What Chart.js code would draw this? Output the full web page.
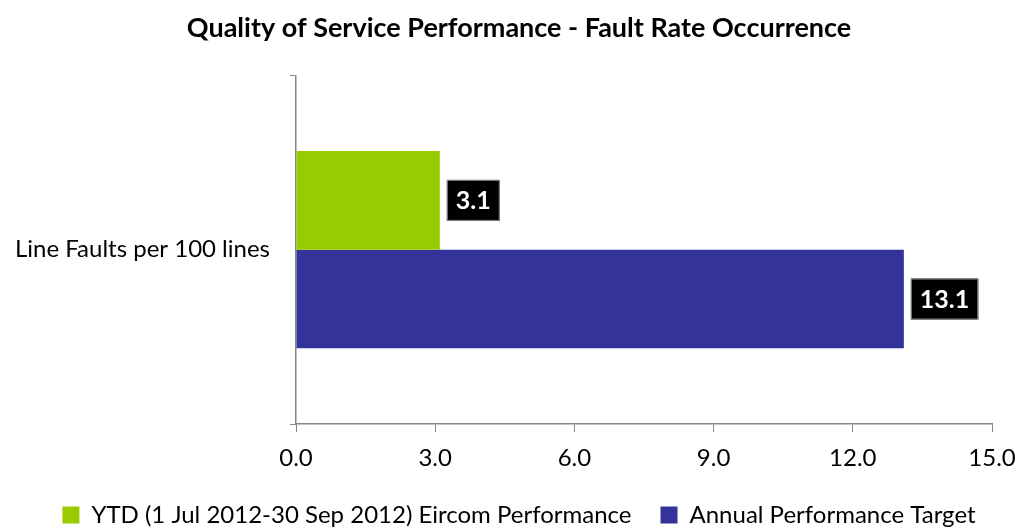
<!DOCTYPE html>
<html>
<head>
<meta charset="utf-8">
<script src="https://cdn.jsdelivr.net/npm/chart.js@4"></script>
<style>
  html, body { margin: 0; padding: 0; background: #fff; overflow: hidden; }
  #wrap { width: 1020px; height: 529px; overflow: hidden; }
  #faultChart { display: block; }
</style>
</head>
<body>
<div id="wrap"><canvas id="faultChart" width="1038" height="529"></canvas></div>
<script>
// chart data
const categories = ['Line Faults per 100 lines'];
const seriesNames = ['YTD (1 Jul 2012-30 Sep 2012) Eircom Performance', 'Annual Performance Target'];
const ytdValues = [3.1];
const targetValues = [13.1];
const xTicks = [0, 3, 6, 9, 12, 15];

const FONT = 'Lato, "Liberation Sans", sans-serif';
const AXIS_GREY = '#868686';

// black boxes with the value next to each bar end
const valueBoxes = {
  id: 'valueBoxes',
  afterDatasetsDraw(chart) {
    const ctx = chart.ctx;
    ctx.save();
    ctx.font = 'bold 25px ' + FONT;
    ctx.textBaseline = 'middle';
    chart.data.datasets.forEach((ds, i) => {
      const meta = chart.getDatasetMeta(i);
      meta.data.forEach((bar, j) => {
        const txt = ds.data[j].toFixed(1);
        const w = ctx.measureText(txt).width + 18;
        const h = 41;
        const x = bar.x + 7;
        const y = bar.y - h / 2;
        ctx.fillStyle = '#000';
        ctx.fillRect(x, y, w, h);
        ctx.strokeStyle = '#8a8a8a';
        ctx.lineWidth = 1;
        ctx.strokeRect(x + 0.5, y + 0.5, w - 1, h - 1);
        ctx.fillStyle = '#fff';
        ctx.fillText(txt, x + 9, bar.y + 1);
      });
    });
    ctx.restore();
  }
};

const canvas = document.getElementById('faultChart');
const ctx = canvas.getContext('2d');

new Chart(ctx, {
  type: 'bar',
  data: {
    labels: categories,
    datasets: [{
      label: seriesNames[0],
      data: ytdValues,
      backgroundColor: '#99cc00',
      barPercentage: 1,
      categoryPercentage: 0.566
    }, {
      label: seriesNames[1],
      data: targetValues,
      backgroundColor: '#333399',
      barPercentage: 1,
      categoryPercentage: 0.566
    }]
  },
  options: {
    indexAxis: 'y',
    responsive: false,
    animation: false,
    layout: { padding: { left: 0, right: 0, top: 0, bottom: -8 } },
    plugins: {
      title: {
        display: true,
        text: 'Quality of Service Performance - Fault Rate Occurrence',
        color: '#000',
        font: { family: FONT, size: 27, weight: 'bold' },
        padding: { top: 12, bottom: 31 }
      },
      legend: {
        position: 'bottom',
        labels: {
          color: '#000',
          font: { family: FONT, size: 24 },
          boxWidth: 17,
          boxHeight: 17,
          padding: 29
        }
      },
      tooltip: { enabled: false }
    },
    scales: {
      x: {
        min: 0,
        max: 15,
        afterBuildTicks(scale) {
          scale.ticks = xTicks.map(v => ({ value: v }));
        },
        afterFit(scale) {
          scale.height = 50;
          scale.paddingLeft = 0;
          scale.paddingRight = 46;
        },
        ticks: {
          color: '#000',
          font: { family: FONT, size: 24 },
          padding: 12,
          callback: v => Number(v).toFixed(1)
        },
        grid: {
          drawOnChartArea: false,
          drawTicks: true,
          tickLength: 8,
          color: AXIS_GREY
        },
        border: { color: AXIS_GREY, width: 1.5 }
      },
      y: {
        afterFit(scale) { scale.width = 296; },
        ticks: {
          color: '#000',
          font: { family: FONT, size: 24 },
          padding: 20
        },
        grid: {
          offset: true,
          drawOnChartArea: false,
          drawTicks: true,
          tickLength: 6,
          color: AXIS_GREY
        },
        border: { color: AXIS_GREY, width: 1.5 }
      }
    }
  },
  plugins: [valueBoxes]
});
</script>
</body>
</html>
